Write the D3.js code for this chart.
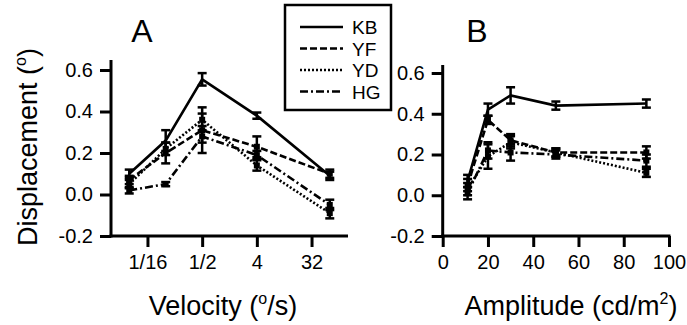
<!DOCTYPE html>
<html><head><meta charset="utf-8">
<script src="https://cdn.jsdelivr.net/npm/d3@7"></script>
<style>body{margin:0;background:#fff}svg{display:block}text{font-family:"Liberation Sans",Arial,sans-serif;fill:#000}</style>
</head><body><svg id="c" width="687" height="325"></svg>
<script>
const series = ["KB","YF","YD","HG"];
const dashes = {KB:null, YF:"7,3", YD:"2,2", HG:"8,3,2,3"};
const velocities = [1/32, 1/8, 1/2, 4, 64];
const velTicks = [1/16, 1/2, 4, 32];
const velTickLabels = ["1/16","1/2","4","32"];
const dispTicks = [-0.2, 0.0, 0.2, 0.4, 0.6];
const dispTickLabels = ["-0.2","0.0","0.2","0.4","0.6"];
const ampTicks = [0,20,40,60,80,100];
const amplitudes = [11, 20, 30, 50, 90];

const velKB = [0.10, 0.26, 0.555, 0.38, 0.09], velKBerr = [0.02, 0.05, 0.03, 0.015, 0.02];
const velYF = [0.07, 0.20, 0.31, 0.23, 0.10], velYFerr = [0.02, 0.05, 0.11, 0.05, 0.02];
const velYD = [0.05, 0.22, 0.36, 0.14, -0.09], velYDerr = [0.02, 0.03, 0.03, 0.025, 0.025];
const velHG = [0.02, 0.05, 0.28, 0.19, -0.05], velHGerr = [0.015, 0.01, 0.03, 0.02, 0.025];

const ampKB = [0.07, 0.42, 0.49, 0.44, 0.45], ampKBerr = [0.03, 0.03, 0.04, 0.02, 0.02];
const ampYF = [0.05, 0.37, 0.27, 0.21, 0.21], ampYFerr = [0.03, 0.02, 0.03, 0.02, 0.03];
const ampYD = [0.03, 0.19, 0.26, 0.21, 0.11], ampYDerr = [0.03, 0.06, 0.03, 0.02, 0.02];
const ampHG = [0.01, 0.22, 0.21, 0.20, 0.17], ampHGerr = [0.03, 0.04, 0.04, 0.02, 0.03];

const velData = {KB:[velKB,velKBerr], YF:[velYF,velYFerr], YD:[velYD,velYDerr], HG:[velHG,velHGerr]};
const ampData = {KB:[ampKB,ampKBerr], YF:[ampYF,ampYFerr], YD:[ampYD,ampYDerr], HG:[ampHG,ampHGerr]};

const svg = d3.select("#c");

function panel(opts){
  const {x, y, vals, data, xTickVals, xTickFmt, letter, letterX, title, titleSup, titleTail, titleX, axisTop, xAxisEnd} = opts;
  const g = svg.append("g");
  const ya = g.append("g").attr("transform",`translate(${x.range()[0]},0)`)
    .call(d3.axisLeft(y).tickValues(dispTicks).tickFormat((d,i)=>dispTickLabels[i]).tickSize(11).tickPadding(7));
  ya.select(".domain").remove();
  g.append("line").attr("x1",x.range()[0]).attr("x2",x.range()[0]).attr("y1",axisTop).attr("y2",y(-0.2)+1.5)
    .attr("stroke","#000").attr("stroke-width",3);
  const xa = g.append("g").attr("transform",`translate(0,${y(-0.2)})`)
    .call(d3.axisBottom(x).tickValues(xTickVals).tickFormat(xTickFmt).tickSize(11).tickPadding(8));
  xa.select(".domain").remove();
  g.append("line").attr("x1",x.range()[0]-1.5).attr("x2",xAxisEnd).attr("y1",y(-0.2)).attr("y2",y(-0.2))
    .attr("stroke","#000").attr("stroke-width",3);
  [ya,xa].forEach(a=>{a.attr("font-size",null).attr("font-family",null);
    a.selectAll(".tick line").attr("stroke","#000").attr("stroke-width",3);
    a.selectAll(".tick text").attr("font-size","20px").attr("fill","#000");});
  series.forEach(s=>{
    const [v,e] = data[s];
    const pts = vals.map((xv,i)=>({x:xv,y:v[i],e:e[i]}));
    const line = d3.line().x(d=>x(d.x)).y(d=>y(d.y));
    g.append("path").datum(pts).attr("d",line).attr("fill","none").attr("stroke","#000")
      .attr("stroke-width",2.6).attr("stroke-dasharray",dashes[s]);
    const eb = g.append("g");
    pts.forEach(d=>{
      eb.append("line").attr("x1",x(d.x)).attr("x2",x(d.x)).attr("y1",y(d.y-d.e)).attr("y2",y(d.y+d.e)).attr("stroke","#000").attr("stroke-width",2.5);
      [d.y-d.e,d.y+d.e].forEach(t=>eb.append("line").attr("x1",x(d.x)-4.5).attr("x2",x(d.x)+4.5).attr("y1",y(t)).attr("y2",y(t)).attr("stroke","#000").attr("stroke-width",2.5));
      if(s!=="KB") eb.append("rect").attr("x",x(d.x)-3).attr("y",y(d.y)-3).attr("width",6).attr("height",6).attr("fill","#000");
    });
  });
  g.append("text").attr("x",letterX).attr("y",42).attr("text-anchor","middle").style("font-size","32px").text(letter);
  const t = g.append("text").attr("x",titleX).attr("y",315).attr("text-anchor","middle").style("font-size","27px");
  t.append("tspan").text(title);
  t.append("tspan").attr("dy",-11).style("font-size","16px").text(titleSup);
  t.append("tspan").attr("dy",11).text(titleTail);
}

const xA = d3.scaleLog().base(2).domain([1/64, 128]).range([111, 348]);
const yA = d3.scaleLinear().domain([-0.2, 0.6]).range([236, 70]);
panel({x:xA, y:yA, vals:velocities, data:velData, xTickVals:velTicks, xTickFmt:(d,i)=>velTickLabels[i],
  letter:"A", letterX:142, title:"Velocity (", titleSup:"o", titleTail:"/s)", titleX:223, axisTop:60, xAxisEnd:348});

const xB = d3.scaleLinear().domain([0,100]).range([442.7, 669]);
const yB = d3.scaleLinear().domain([-0.2, 0.6]).range([236, 73]);
panel({x:xB, y:yB, vals:amplitudes, data:ampData, xTickVals:ampTicks, xTickFmt:d3.format("d"),
  letter:"B", letterX:477, title:"Amplitude (cd/m", titleSup:"2", titleTail:")", titleX:571, axisTop:65, xAxisEnd:670.5});

const yt = svg.append("text").attr("transform","translate(37,147) rotate(-90)").attr("text-anchor","middle").style("font-size","27px");
yt.append("tspan").text("Displacement (");
yt.append("tspan").attr("dy",-11).style("font-size","16px").text("o");
yt.append("tspan").attr("dy",11).text(")");

const lg = svg.append("g");
lg.append("rect").attr("x",285).attr("y",5).attr("width",106).attr("height",105).attr("fill","#fff").attr("stroke","#000").attr("stroke-width",2.5);
series.forEach((s,i)=>{
  const yy = 27 + i*21.5;
  lg.append("line").attr("x1",300).attr("x2",343).attr("y1",yy).attr("y2",yy).attr("stroke","#000").attr("stroke-width",2.6).attr("stroke-dasharray",dashes[s]);
  lg.append("text").attr("x",352).attr("y",yy+7).style("font-size","19px").text(s);
});
</script></body></html>
